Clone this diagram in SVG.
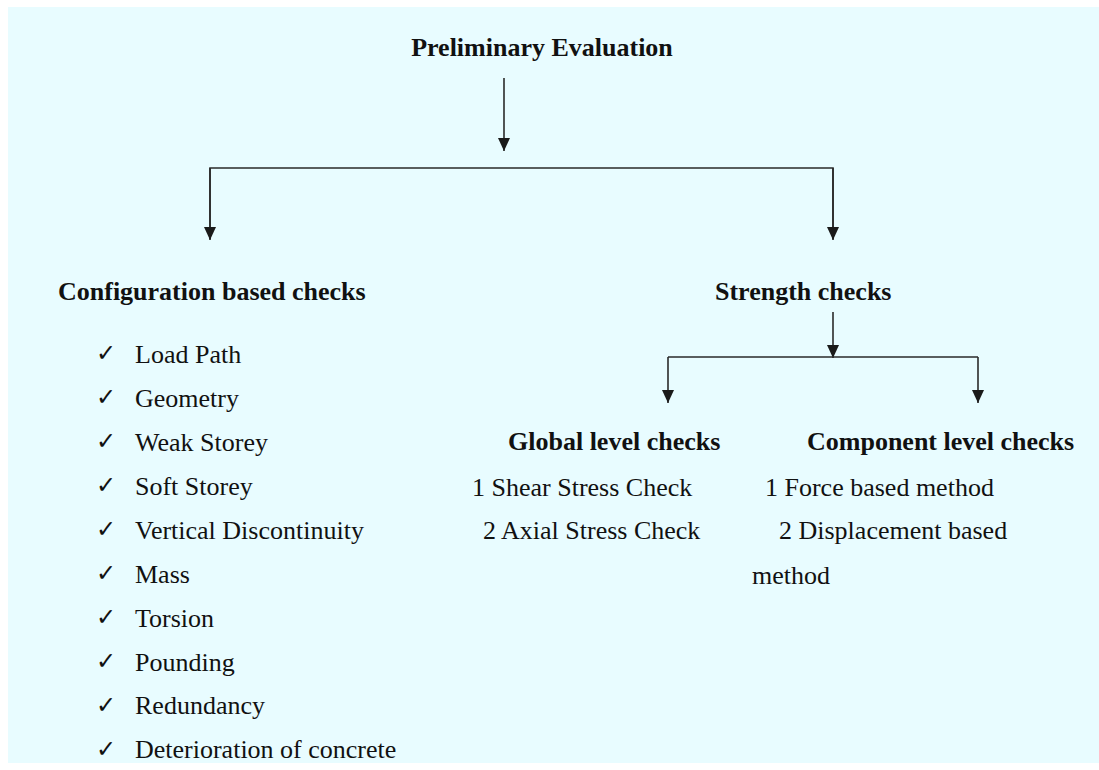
<svg xmlns="http://www.w3.org/2000/svg" width="1099" height="770" viewBox="0 0 1099 770">
<defs>
<marker id="ah" viewBox="0 0 13 12" refX="13" refY="6" markerWidth="13" markerHeight="12" markerUnits="userSpaceOnUse" orient="auto">
<path d="M0,0 L13,6 L0,12 Z" fill="#1a1a1a"/>
</marker>
<style>
.b{font-family:'Liberation Serif','Times New Roman','DejaVu Serif',serif;font-weight:700;font-size:26px;fill:#111}
.r{font-family:'Liberation Serif','Times New Roman','DejaVu Serif',serif;font-size:26px;fill:#111}
.ck{font-family:'DejaVu Sans',sans-serif;font-size:24px;fill:#111}
.ln{stroke:#2a2a2a;stroke-width:1.6;fill:none}
.ar{stroke:#2a2a2a;stroke-width:1.6;fill:none;marker-end:url(#ah)}
</style>
</defs>
<rect x="0" y="0" width="1099" height="770" fill="#ffffff"/>
<rect x="8" y="7" width="1091" height="756" fill="#E8FCFF"/>
<g id="connectors">
<line class="ar" x1="504" y1="78" x2="504" y2="151"/>
<polyline class="ln" points="210,239 210,168 833,168 833,239"/>
<line class="ar" x1="210" y1="168" x2="210" y2="240"/>
<line class="ar" x1="833" y1="168" x2="833" y2="240"/>
<line class="ar" x1="833" y1="312" x2="833" y2="358"/>
<polyline class="ln" points="668,357 978,357"/>
<line class="ar" x1="668" y1="357" x2="668" y2="403"/>
<line class="ar" x1="978" y1="357" x2="978" y2="403"/>
</g>
<g id="preliminary">
<text class="b" x="542" y="56" text-anchor="middle" font-family="Liberation Serif, serif">Preliminary Evaluation</text>
</g>
<g id="configuration">
<text class="b" x="58" y="300">Configuration based checks</text>
<g class="ck">
<text x="96" y="361">✓</text>
<text x="96" y="405">✓</text>
<text x="96" y="449">✓</text>
<text x="96" y="493">✓</text>
<text x="96" y="537">✓</text>
<text x="96" y="581">✓</text>
<text x="96" y="625">✓</text>
<text x="96" y="669">✓</text>
<text x="96" y="713">✓</text>
<text x="96" y="757">✓</text>
</g>
<text class="r" x="135" y="363">Load Path</text>
<text class="r" x="135" y="407">Geometry</text>
<text class="r" x="135" y="451">Weak Storey</text>
<text class="r" x="135" y="495">Soft Storey</text>
<text class="r" x="135" y="539">Vertical Discontinuity</text>
<text class="r" x="135" y="583">Mass</text>
<text class="r" x="135" y="627">Torsion</text>
<text class="r" x="135" y="671">Pounding</text>
<text class="r" x="135" y="714">Redundancy</text>
<text class="r" x="135" y="758">Deterioration of concrete</text>
</g>
<g id="strength">
<text class="b" x="715" y="300">Strength checks</text>
</g>
<g id="global">
<text class="b" x="508" y="450">Global level checks</text>
<text class="r" x="472" y="496">1 Shear Stress Check</text>
<text class="r" x="483" y="539">2 Axial Stress Check</text>
</g>
<g id="component">
<text class="b" x="807" y="450">Component level checks</text>
<text class="r" x="765" y="496">1 Force based method</text>
<text class="r" x="779" y="539">2 Displacement based</text>
<text class="r" x="752" y="584">method</text>
</g>
</svg>
